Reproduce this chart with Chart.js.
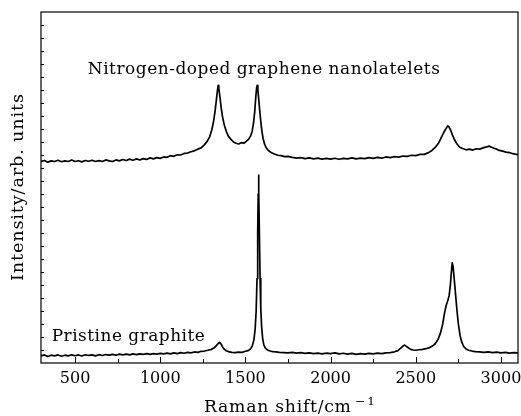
<!DOCTYPE html>
<html>
<head>
<meta charset="utf-8">
<script src="https://cdn.jsdelivr.net/npm/chart.js@4.4.1/dist/chart.umd.min.js"></script>
<style>
html,body{margin:0;padding:0;background:#fff;}
canvas{display:block;}
</style>
</head>
<body>
<canvas id="c" width="521" height="416"></canvas>
<script>
// ---- data ----
const seriesNames = ["Nitrogen-doped graphene nanolatelets", "Pristine graphite"];
const xTickValues = [500, 1000, 1500, 2000, 2500, 3000];
const xMinorTickValues = [750, 1250, 1750, 2250, 2750];
const xTitle = "Raman shift/cm";
const xTitleSup = "\u22121";
const yTitle = "Intensity/arb. units";

const ndX = [300,320,340,360,380,400,420,440,460,480,500,520,540,560,580,600,620,640,660,680,700,720,740,760,780,800,820,840,860,880,900,920,940,960,980,1000,1020,1040,1060,1080,1100,1120,1140,1160,1180,1200,1220,1240,1260,1275,1290,1302,1312,1322,1330,1336,1340,1344,1350,1358,1366,1376,1388,1400,1415,1430,1445,1460,1475,1490,1505,1518,1530,1540,1548,1555,1561,1566,1569,1573,1578,1584,1590,1597,1604,1612,1622,1635,1650,1670,1690,1710,1730,1750,1775,1800,1825,1850,1875,1900,1925,1950,1975,2000,2025,2050,2075,2100,2125,2150,2175,2200,2225,2250,2275,2300,2325,2350,2375,2400,2425,2450,2475,2500,2525,2550,2575,2595,2615,2635,2650,2665,2678,2688,2696,2705,2715,2728,2742,2758,2775,2795,2815,2835,2855,2875,2895,2915,2930,2945,2960,2975,2990,3010,3030,3050,3070,3090,3100];
const ndY = [15.50,15.58,15.45,15.55,15.50,15.60,15.48,15.55,15.50,15.62,15.50,15.56,15.47,15.58,15.52,15.60,15.50,15.57,15.50,15.62,15.55,15.50,15.62,15.55,15.65,15.58,15.68,15.60,15.70,15.62,15.72,15.66,15.78,15.70,15.80,15.74,15.85,15.82,15.95,15.90,16.02,16.00,16.12,16.15,16.25,16.32,16.45,16.55,16.80,17.05,17.40,17.90,18.50,19.40,20.30,21.00,21.35,21.10,20.50,19.60,18.90,18.30,17.80,17.45,17.20,17.00,16.90,16.85,16.95,16.90,17.05,17.20,17.45,17.85,18.50,19.40,20.50,21.20,21.35,21.00,20.30,19.40,18.60,17.80,17.25,16.85,16.55,16.35,16.20,16.08,15.98,15.95,15.88,15.90,15.82,15.76,15.80,15.72,15.78,15.70,15.76,15.68,15.74,15.68,15.75,15.67,15.74,15.70,15.78,15.70,15.76,15.72,15.80,15.74,15.82,15.76,15.85,15.80,15.88,15.84,15.92,15.90,15.98,15.95,16.05,16.05,16.18,16.35,16.60,16.95,17.35,17.75,18.05,18.25,18.15,17.90,17.55,17.15,16.85,16.60,16.50,16.40,16.45,16.38,16.48,16.45,16.55,16.62,16.68,16.60,16.52,16.45,16.35,16.30,16.22,16.18,16.10,16.05,16.02];

const pgX = [300,320,340,360,380,400,420,440,460,480,500,520,540,560,580,600,620,640,660,680,700,720,740,760,780,800,820,840,860,880,900,920,940,960,980,1000,1020,1040,1060,1080,1100,1120,1140,1160,1180,1200,1220,1240,1260,1280,1300,1315,1328,1340,1348,1356,1364,1374,1386,1400,1420,1440,1460,1480,1500,1515,1528,1540,1550,1557,1563,1568,1572,1575,1577,1579,1582,1586,1590,1595,1601,1608,1618,1630,1645,1660,1680,1700,1725,1750,1775,1800,1825,1850,1875,1900,1925,1950,1975,2000,2025,2050,2075,2100,2125,2150,2175,2200,2225,2250,2275,2300,2325,2350,2375,2395,2410,2425,2435,2445,2458,2470,2485,2500,2520,2540,2560,2580,2600,2615,2630,2645,2658,2668,2678,2688,2696,2703,2709,2714,2719,2726,2734,2742,2750,2760,2770,2782,2795,2810,2830,2850,2875,2900,2925,2950,2975,3000,3025,3050,3075,3100];
const pgY = [0.55,0.62,0.50,0.60,0.55,0.62,0.52,0.60,0.55,0.63,0.56,0.62,0.54,0.63,0.58,0.62,0.55,0.64,0.58,0.65,0.60,0.66,0.60,0.68,0.62,0.68,0.63,0.70,0.64,0.70,0.66,0.72,0.66,0.72,0.68,0.74,0.70,0.76,0.70,0.78,0.72,0.80,0.75,0.82,0.78,0.85,0.82,0.90,0.92,0.98,1.05,1.15,1.32,1.50,1.58,1.48,1.28,1.08,0.95,0.88,0.82,0.80,0.84,0.82,0.90,0.95,1.05,1.30,1.80,2.60,4.00,6.50,10.00,13.00,14.45,13.20,10.00,6.50,4.20,2.80,1.90,1.40,1.12,1.00,0.92,0.88,0.85,0.82,0.80,0.78,0.82,0.76,0.80,0.74,0.78,0.72,0.76,0.70,0.76,0.72,0.78,0.70,0.75,0.68,0.74,0.66,0.72,0.68,0.74,0.70,0.76,0.72,0.78,0.80,0.86,0.95,1.12,1.30,1.38,1.28,1.15,1.05,1.00,0.98,1.02,1.05,1.10,1.18,1.32,1.50,1.80,2.30,3.00,3.80,4.40,4.80,5.20,6.00,7.00,7.70,7.40,6.40,5.20,4.00,3.00,2.10,1.60,1.25,1.08,0.98,0.92,0.88,0.85,0.82,0.86,0.80,0.84,0.78,0.82,0.76,0.80,0.78];

// ---- chart ----
const FONT = "'DejaVu Serif', serif";

// draws text widened to a target width: part horizontal stretch, part letter spacing
function fitText(ctx, text, x, y, target, align) {
  ctx.letterSpacing = '0px';
  const w0 = ctx.measureText(text).width;
  const ratio = target / w0;
  const stretch = Math.min(Math.max(1, 1 + (ratio - 1) * 0.5), 1.1);
  const remaining = target / stretch - w0;
  const sp = Math.max(0, remaining / Math.max(1, text.length - 1));
  ctx.letterSpacing = sp.toFixed(2) + 'px';
  const w = (ctx.measureText(text).width - sp) * stretch;
  let sx = x;
  if (align === 'center') sx = x - w / 2;
  else if (align === 'right') sx = x - w;
  ctx.save();
  ctx.translate(sx, y);
  ctx.scale(stretch, 1);
  ctx.textAlign = 'left';
  ctx.fillText(text, 0, 0);
  ctx.restore();
  ctx.letterSpacing = '0px';
  return w;
}

const framePlugin = {
  id: 'frame',
  afterDraw(chart) {
    const ctx = chart.ctx, a = chart.chartArea;
    const xs = chart.scales.x, ys = chart.scales.y;
    ctx.save();
    ctx.strokeStyle = '#000';
    ctx.lineWidth = 1.2;
    ctx.strokeRect(a.left, a.top, a.right - a.left, a.bottom - a.top);
    ctx.lineWidth = 1;
    ctx.beginPath();
    xTickValues.forEach(v => {
      const px = Math.round(xs.getPixelForValue(v)) + 0.5;
      ctx.moveTo(px, a.bottom); ctx.lineTo(px, a.bottom - 6);
    });
    xMinorTickValues.forEach(v => {
      const px = Math.round(xs.getPixelForValue(v)) + 0.5;
      ctx.moveTo(px, a.bottom); ctx.lineTo(px, a.bottom - 4);
    });
    for (let v = ys.min + 1; v < ys.max; v++) {
      const py = Math.round(ys.getPixelForValue(v)) + 0.5;
      ctx.moveTo(a.left, py); ctx.lineTo(a.left + 3, py);
    }
    ctx.stroke();

    ctx.fillStyle = '#000';
    ctx.font = '16px ' + FONT;
    // x tick labels
    ctx.textBaseline = 'middle';
    ctx.textAlign = 'center';
    xTickValues.forEach(v => {
      ctx.fillText(String(v), xs.getPixelForValue(v), a.bottom + 16);
    });
    // series labels
    ctx.textBaseline = 'alphabetic';
    fitText(ctx, seriesNames[0], xs.getPixelForValue(1608), ys.getPixelForValue(22.23), 352, 'center');
    fitText(ctx, seriesNames[1], xs.getPixelForValue(363), ys.getPixelForValue(1.72), 153, 'left');
    // x title
    const cx = (a.left + a.right) / 2 + 10;
    const supW = 20;
    const mainW = 147;
    const startX = cx - (mainW + 4 + supW) / 2;
    ctx.font = '16px ' + FONT;
    fitText(ctx, xTitle, startX, 412, mainW, 'left');
    ctx.font = '11px ' + FONT;
    fitText(ctx, xTitleSup, startX + mainW + 4, 405, supW, 'left');
    // y title
    ctx.save();
    ctx.translate(19, (a.top + a.bottom) / 2);
    ctx.rotate(-Math.PI / 2);
    ctx.font = '16px ' + FONT;
    ctx.textBaseline = 'middle';
    fitText(ctx, yTitle, 0, 0, 187, 'center');
    ctx.restore();
    ctx.restore();
  }
};

new Chart(document.getElementById('c'), {
  type: 'line',
  data: {
    datasets: [
      { label: seriesNames[0], data: ndX.map((x, i) => ({x, y: ndY[i]})) },
      { label: seriesNames[1], data: pgX.map((x, i) => ({x, y: pgY[i]})) }
    ].map(d => Object.assign(d, {
      borderColor: '#000', borderWidth: 1.7, pointRadius: 0, tension: 0, fill: false,
      borderJoinStyle: 'round', borderCapStyle: 'round'
    }))
  },
  options: {
    responsive: false,
    animation: false,
    layout: { padding: { top: 12, right: 3, left: 0, bottom: 0 } },
    plugins: { legend: { display: false }, tooltip: { enabled: false } },
    scales: {
      x: {
        type: 'linear', min: 300, max: 3100,
        afterFit: s => { s.height = 53; s.paddingLeft = 0; s.paddingRight = 0; },
        grid: { display: false, drawTicks: false },
        border: { display: false },
        ticks: { display: false },
        title: { display: false }
      },
      y: {
        min: 0, max: 27,
        afterFit: s => { s.width = 41; s.paddingTop = 0; s.paddingBottom = 0; },
        grid: { display: false, drawTicks: false },
        border: { display: false },
        ticks: { display: false },
        title: { display: false }
      }
    }
  },
  plugins: [framePlugin]
});
</script>
</body>
</html>
